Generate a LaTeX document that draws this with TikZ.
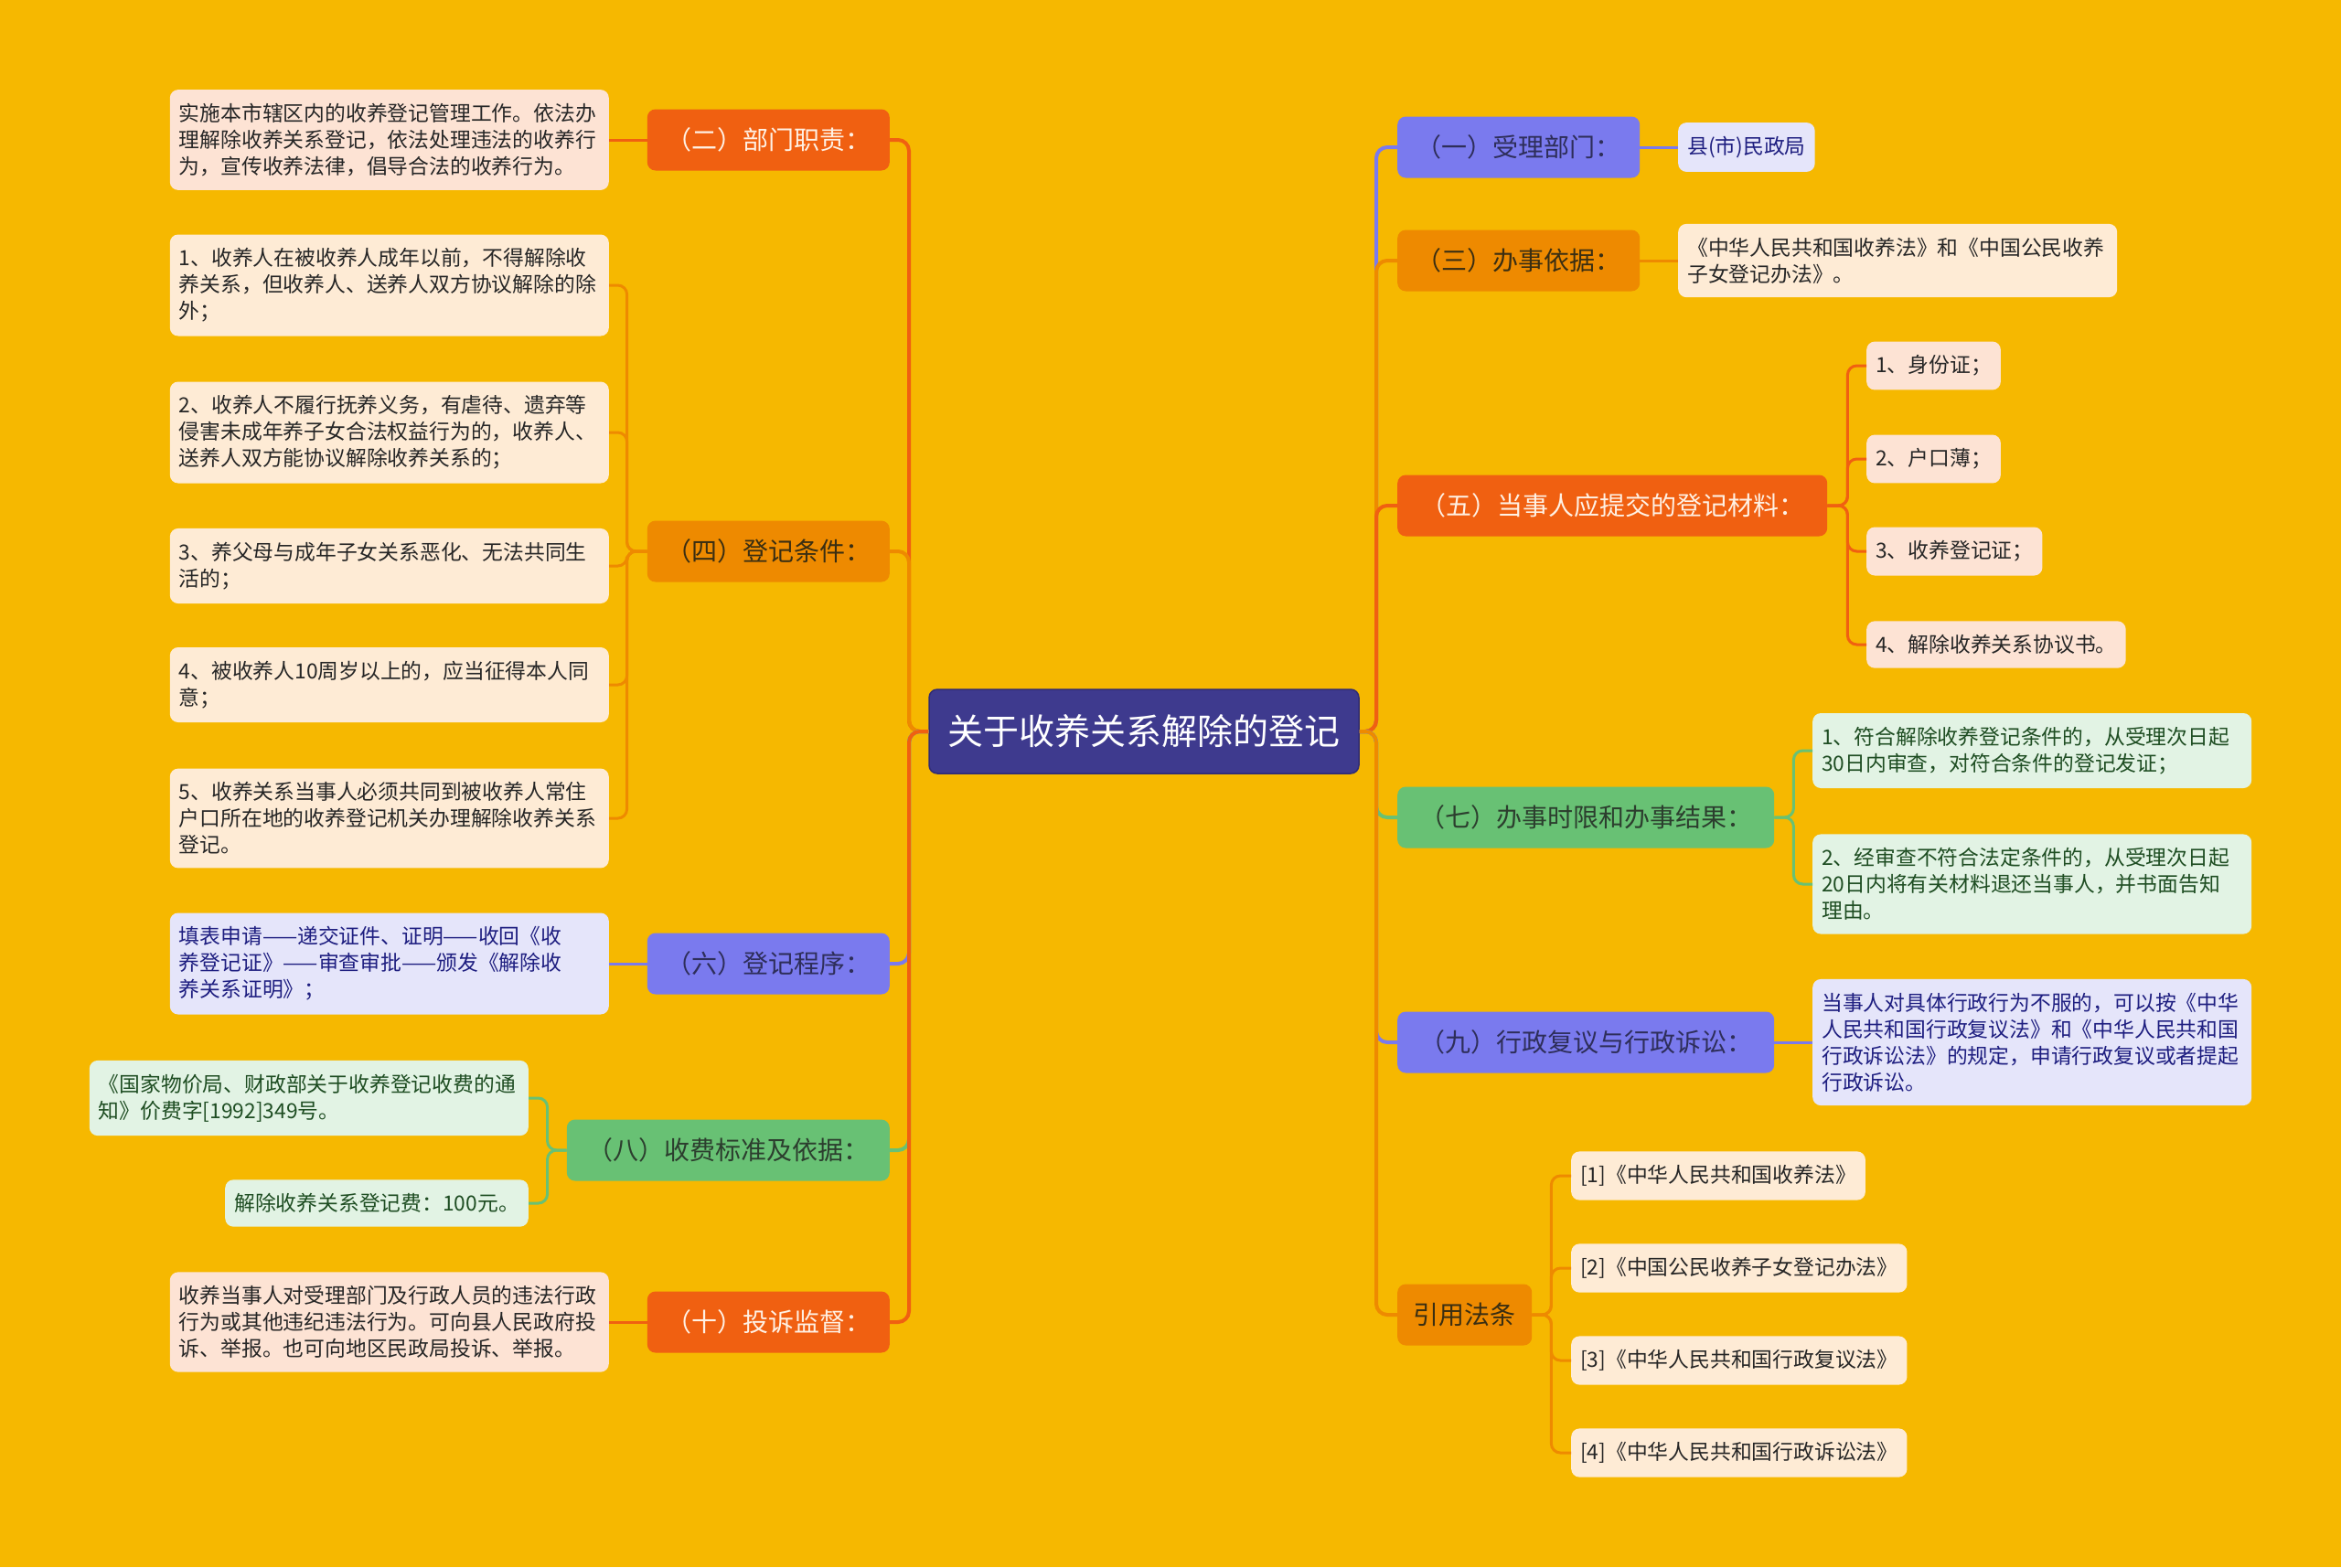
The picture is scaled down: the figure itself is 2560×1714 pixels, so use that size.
\documentclass[tikz,border=0pt]{standalone}
\usepackage{fontspec}
\setmainfont{Noto Sans CJK SC}
\XeTeXlinebreaklocale "zh"
\definecolor{bgc}{HTML}{F6B800}
\definecolor{hub}{HTML}{3E3A8E}
\definecolor{hubline}{HTML}{302C74}
\definecolor{redor}{HTML}{F06011}
\definecolor{orng}{HTML}{EE8A00}
\definecolor{purp}{HTML}{7A7AEE}
\definecolor{grn}{HTML}{68C174}
\definecolor{redleaf}{HTML}{FDE3D4}
\definecolor{orleaf}{HTML}{FEEBD5}
\definecolor{purleaf}{HTML}{E5E5FA}
\definecolor{grnleaf}{HTML}{E2F3E4}
\definecolor{redtxt}{HTML}{FFF1E4}
\definecolor{dark}{HTML}{3A2E12}
\definecolor{purtxt}{HTML}{2E2E5A}
\definecolor{grntxt}{HTML}{2C3E2E}
\definecolor{leaftxt}{HTML}{262626}
\definecolor{navy}{HTML}{1E1E80}
\definecolor{dgreen}{HTML}{1E4D22}
\begin{document}
\begin{tikzpicture}
[x=1pt, y=-1pt,
 bnode/.style={rounded corners=9pt, minimum height=67pt, inner xsep=0pt, font=\fontsize{28}{31}\selectfont},
 leaf/.style={rounded corners=9pt, inner xsep=10pt, inner ysep=15pt, align=left, font=\fontsize{22.8}{29}\selectfont},
 wide/.style={leaf, text width=460pt},
 blink/.style={line width=4pt, rounded corners=12pt},
 llink/.style={line width=3pt, rounded corners=10pt}]
\useasboundingbox (0,0) rectangle (2560,1714);
\fill[bgc] (0,0) rectangle (2560,1714); %% page
\node (ctr) at (1251,800) [fill=hub, draw=hubline, line width=1.5pt, rounded corners=9pt, minimum width=470pt, minimum height=92pt, text=white, font=\fontsize{39}{42}\selectfont] {关于收养关系解除的登记};
\coordinate (lt) at (994,800);
\coordinate (rt) at (1505,800);
%% left branches
\node (b2)  at (973,153)  [bnode, anchor=east, minimum width=265pt, fill=redor, text=redtxt] {（二）部门职责：};
\node (b4)  at (973,603)  [bnode, anchor=east, minimum width=265pt, fill=orng, text=dark] {（四）登记条件：};
\node (b6)  at (973,1054) [bnode, anchor=east, minimum width=265pt, fill=purp, text=purtxt] {（六）登记程序：};
\node (b8)  at (973,1258) [bnode, anchor=east, minimum width=353pt, fill=grn, text=grntxt] {（八）收费标准及依据：};
\node (b10) at (973,1446) [bnode, anchor=east, minimum width=265pt, fill=redor, text=redtxt] {（十）投诉监督：};
%% left leaves
\node (l2)  at (666,153)  [wide, anchor=east, fill=redleaf, text=leaftxt] {实施本市辖区内的收养登记管理工作。依法办\\理解除收养关系登记，依法处理违法的收养行\\为，宣传收养法律，倡导合法的收养行为。};
\node (l4a) at (666,312)  [wide, anchor=east, fill=orleaf, text=leaftxt] {1、收养人在被收养人成年以前，不得解除收\\养关系，但收养人、送养人双方协议解除的除\\外；};
\node (l4b) at (666,473)  [wide, anchor=east, fill=orleaf, text=leaftxt] {2、收养人不履行抚养义务，有虐待、遗弃等\\侵害未成年养子女合法权益行为的，收养人、\\送养人双方能协议解除收养关系的；};
\node (l4c) at (666,619)  [wide, anchor=east, fill=orleaf, text=leaftxt] {3、养父母与成年子女关系恶化、无法共同生\\活的；};
\node (l4d) at (666,749)  [wide, anchor=east, fill=orleaf, text=leaftxt] {4、被收养人10周岁以上的，应当征得本人同\\意；};
\node (l4e) at (666,895)  [wide, anchor=east, fill=orleaf, text=leaftxt] {5、收养关系当事人必须共同到被收养人常住\\户口所在地的收养登记机关办理解除收养关系\\登记。};
\node (l6)  at (666,1054) [wide, anchor=east, fill=purleaf, text=navy] {填表申请——递交证件、证明——收回《收\\养登记证》——审查审批——颁发《解除收\\养关系证明》；};
\node (l8a) at (578,1201) [wide, anchor=east, fill=grnleaf, text=dgreen] {《国家物价局、财政部关于收养登记收费的通\\知》价费字[1992]349号。};
\node (l8b) at (578,1316) [leaf, anchor=east, fill=grnleaf, text=dgreen] {解除收养关系登记费：100元。};
\node (l10) at (666,1446) [wide, anchor=east, fill=redleaf, text=leaftxt] {收养当事人对受理部门及行政人员的违法行政\\行为或其他违纪违法行为。可向县人民政府投\\诉、举报。也可向地区民政局投诉、举报。};
%% right branches
\node (b1)  at (1528,161)  [bnode, anchor=west, minimum width=265pt, fill=purp, text=purtxt] {（一）受理部门：};
\node (b3)  at (1528,285)  [bnode, anchor=west, minimum width=265pt, fill=orng, text=dark] {（三）办事依据：};
\node (b5)  at (1528,553)  [bnode, anchor=west, minimum width=470pt, fill=redor, text=redtxt] {（五）当事人应提交的登记材料：};
\node (b7)  at (1528,894)  [bnode, anchor=west, minimum width=412pt, fill=grn, text=grntxt] {（七）办事时限和办事结果：};
\node (b9)  at (1528,1140) [bnode, anchor=west, minimum width=412pt, fill=purp, text=purtxt] {（九）行政复议与行政诉讼：};
\node (b11) at (1528,1438) [bnode, anchor=west, minimum width=147pt, fill=orng, text=dark] {引用法条};
%% right leaves
\node (r1)  at (1835,161)  [leaf, anchor=west, fill=purleaf, text=navy] {县(市)民政局};
\node (r3)  at (1835,285)  [wide, anchor=west, fill=orleaf, text=leaftxt] {《中华人民共和国收养法》和《中国公民收养\\子女登记办法》。};
\node (r5a) at (2041,400)  [leaf, anchor=west, fill=redleaf, text=leaftxt] {1、身份证；};
\node (r5b) at (2041,502)  [leaf, anchor=west, fill=redleaf, text=leaftxt] {2、户口薄；};
\node (r5c) at (2041,603)  [leaf, anchor=west, fill=redleaf, text=leaftxt] {3、收养登记证；};
\node (r5d) at (2041,705)  [leaf, anchor=west, fill=redleaf, text=leaftxt] {4、解除收养关系协议书。};
\node (r7a) at (1982,821)  [wide, anchor=west, fill=grnleaf, text=dgreen] {1、符合解除收养登记条件的，从受理次日起\\30日内审查，对符合条件的登记发证；};
\node (r7b) at (1982,967)  [wide, anchor=west, fill=grnleaf, text=dgreen] {2、经审查不符合法定条件的，从受理次日起\\20日内将有关材料退还当事人，并书面告知\\理由。};
\node (r9)  at (1982,1140) [wide, anchor=west, fill=purleaf, text=navy] {当事人对具体行政行为不服的，可以按《中华\\人民共和国行政复议法》和《中华人民共和国\\行政诉讼法》的规定，申请行政复议或者提起\\行政诉讼。};
\node (r11a) at (1718,1286) [leaf, anchor=west, fill=orleaf, text=leaftxt] {[1]《中华人民共和国收养法》};
\node (r11b) at (1718,1387) [leaf, anchor=west, fill=orleaf, text=leaftxt] {[2]《中国公民收养子女登记办法》};
\node (r11c) at (1718,1488) [leaf, anchor=west, fill=orleaf, text=leaftxt] {[3]《中华人民共和国行政复议法》};
\node (r11d) at (1718,1589) [leaf, anchor=west, fill=orleaf, text=leaftxt] {[4]《中华人民共和国行政诉讼法》};
%% trunk links
\draw[blink, redor] (ctr.west)--(lt) |- (b2.east); %% to (二)
\draw[blink, orng]  (ctr.west)--(lt) |- (b4.east); %% to (四)
\draw[blink, purp]  (ctr.west)--(lt) |- (b6.east); %% to (六)
\draw[blink, grn]   (ctr.west)--(lt) |- (b8.east); %% to (八)
\draw[blink, redor] (ctr.west)--(lt) |- (b10.east); %% to (十)
\draw[blink, purp]  (ctr.east)--(rt) |- (b1.west); %% to (一)
\draw[blink, orng]  (ctr.east)--(rt) |- (b3.west); %% to (三)
\draw[blink, redor] (ctr.east)--(rt) |- (b5.west); %% to (五)
\draw[blink, grn]   (ctr.east)--(rt) |- (b7.west); %% to (七)
\draw[blink, purp]  (ctr.east)--(rt) |- (b9.west); %% to (九)
\draw[blink, orng]  (ctr.east)--(rt) |- (b11.west); %% to 引用法条
%% leaf links, left
\draw[llink, redor] (b2.west)--(l2.east);
\draw[llink, orng]  (b4.west)--++(-22,0) |- (l4a.east);
\draw[llink, orng]  (b4.west)--++(-22,0) |- (l4b.east);
\draw[llink, orng]  (b4.west)--++(-22,0) |- (l4c.east);
\draw[llink, orng]  (b4.west)--++(-22,0) |- (l4d.east);
\draw[llink, orng]  (b4.west)--++(-22,0) |- (l4e.east);
\draw[llink, purp]  (b6.west)--(l6.east);
\draw[llink, grn]   (b8.west)--++(-21,0) |- (l8a.east);
\draw[llink, grn]   (b8.west)--++(-21,0) |- (l8b.east);
\draw[llink, redor] (b10.west)--(l10.east);
%% leaf links, right
\draw[llink, purp]  (b1.east)--(r1.west);
\draw[llink, orng]  (b3.east)--(r3.west);
\draw[llink, redor] (b5.east)--++(22,0) |- (r5a.west);
\draw[llink, redor] (b5.east)--++(22,0) |- (r5b.west);
\draw[llink, redor] (b5.east)--++(22,0) |- (r5c.west);
\draw[llink, redor] (b5.east)--++(22,0) |- (r5d.west);
\draw[llink, grn]   (b7.east)--++(21,0) |- (r7a.west);
\draw[llink, grn]   (b7.east)--++(21,0) |- (r7b.west);
\draw[llink, purp]  (b9.east)--(r9.west);
\draw[llink, orng]  (b11.east)--++(21,0) |- (r11a.west);
\draw[llink, orng]  (b11.east)--++(21,0) |- (r11b.west);
\draw[llink, orng]  (b11.east)--++(21,0) |- (r11c.west);
\draw[llink, orng]  (b11.east)--++(21,0) |- (r11d.west);
\end{tikzpicture}
\end{document}
